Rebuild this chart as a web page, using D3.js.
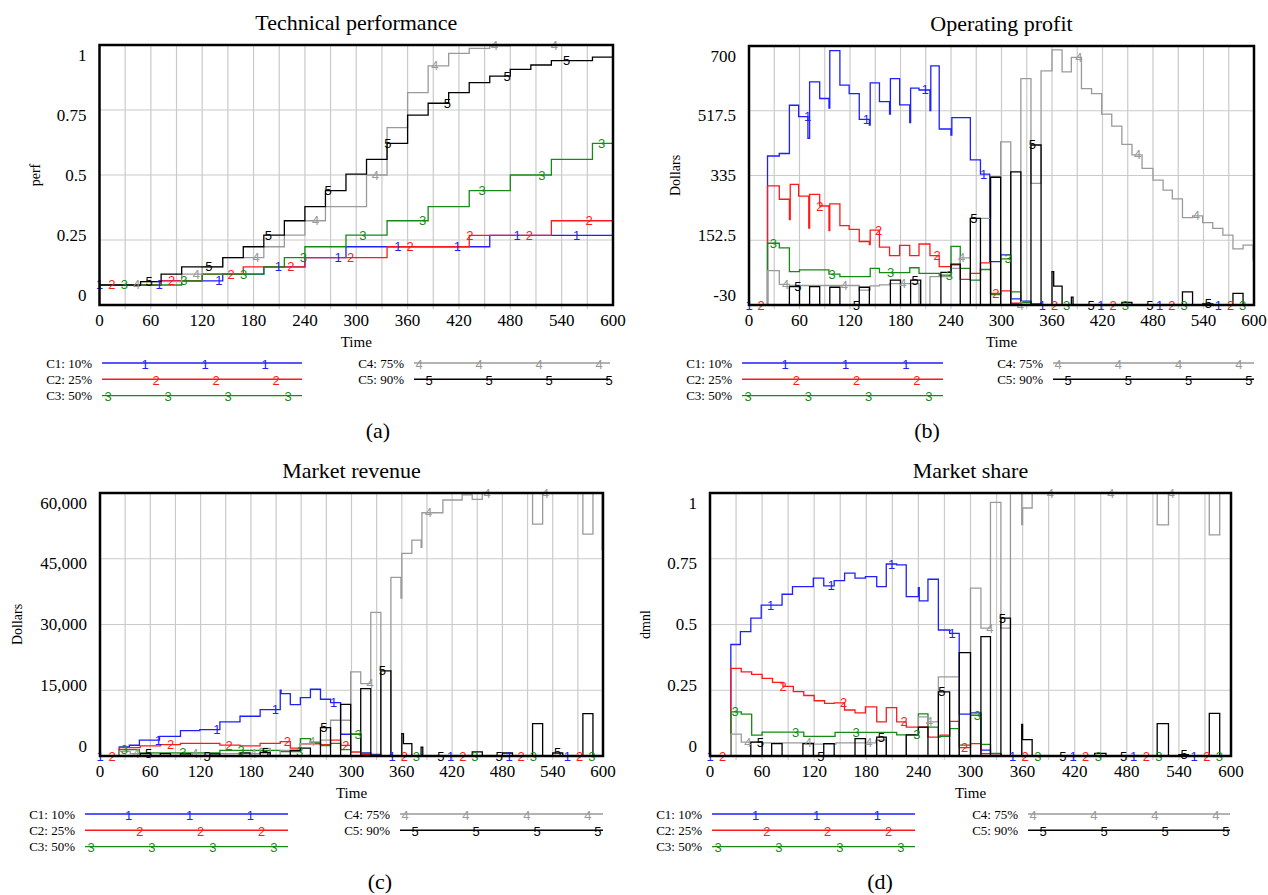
<!DOCTYPE html>
<html>
<head>
<meta charset="utf-8">
<script src="https://cdn.jsdelivr.net/npm/d3@7"></script>
<style>
body { margin: 0; background: #fff; }
text { font-family: "Liberation Serif", "Times New Roman", serif; }
</style>
</head>
<body>
<div id="viz"></div>
<script>
// Five scenarios, one line per scenario in each panel.
// Each series is a list of [time, value] steps: value holds until the next time.

var seriesNames = ["C1: 10%", "C2: 25%", "C3: 50%", "C4: 75%", "C5: 90%"];
var seriesMarks = ["1", "2", "3", "4", "5"];
var seriesColors = ["#1f1fff", "#ff1a1a", "#158a15", "#9a9a9a", "#000000"];

var timeTicks = [0, 60, 120, 180, 240, 300, 360, 420, 480, 540, 600];

// (a) Technical performance
var perfTicks = [0, 0.25, 0.5, 0.75, 1];
var perfTickLabels = ["0", "0.25", "0.5", "0.75", "1"];
var perfC1 = [[0,0.077],[72,0.093],[144,0.119],[192,0.147],[240,0.182],[288,0.224],[456,0.268]];
var perfC2 = [[0,0.077],[72,0.093],[120,0.119],[168,0.147],[240,0.182],[336,0.224],[432,0.268],[528,0.324]];
var perfC3 = [[0,0.077],[96,0.093],[120,0.119],[192,0.147],[216,0.182],[240,0.224],[288,0.269],[336,0.324],
              [384,0.378],[432,0.44],[480,0.5],[528,0.56],[576,0.622]];
var perfC4 = [[0,0.077],[48,0.09],[96,0.119],[120,0.147],[144,0.182],[192,0.224],[216,0.269],[240,0.324],
              [264,0.378],[312,0.5],[336,0.682],[360,0.817],[384,0.92],[408,0.968],[432,0.987],[456,0.997],[480,1.0]];
var perfC5 = [[0,0.077],[48,0.09],[72,0.119],[96,0.147],[144,0.182],[168,0.224],[192,0.269],[216,0.324],
              [240,0.378],[264,0.44],[288,0.503],[312,0.56],[336,0.622],[360,0.73],[384,0.776],[408,0.817],
              [432,0.855],[456,0.88],[480,0.906],[504,0.923],[528,0.94],[576,0.953]];

// (b) Operating profit
var profTicks = [-30, 152.5, 335, 517.5, 700];
var profTickLabels = ["-30", "152.5", "335", "517.5", "700"];
var profC1 = [[0,-30],[22,390],[36,397],[48,533],[59,501],[70,440],[72,599],[84,552],[95,525],[96,687],[108,590],
              [119,566],[131,493],[143,477],[144,596],[155,543],[167,508],[168,608],[179,534],[191,484],[192,581],
              [202,576],[215,518],[216,644],[226,466],[240,449],[241,498],[263,379],[275,339],[286,92],[299,111],
              [311,-13],[323,-19],[335,-27],[347,-30]];
var profC2 = [[0,-30],[22,306],[36,268],[48,211],[49,310],[59,277],[71,187],[72,282],[84,249],[95,180],[96,255],
              [108,194],[119,183],[131,149],[143,140],[144,181],[155,133],[167,109],[179,138],[191,109],[202,142],
              [215,109],[226,78],[240,83],[251,42],[263,59],[275,89],[287,3],[299,10],[311,-25],[323,-30]];
var profC3 = [[0,-30],[22,144],[36,131],[48,64],[60,69],[95,57],[108,50],[144,73],[155,61],[191,75],[202,59],
              [226,54],[240,135],[251,73],[263,40],[275,70],[287,-1],[299,100],[311,7],[323,-23],[335,-30]];
var profC4 = [[0,-30],[22,67],[36,28],[48,25],[131,12],[144,24],[155,27],[167,30],[202,-30],[215,50],[240,73],
              [251,103],[263,214],[287,331],[299,430],[311,-30],[323,608],[335,313],[347,630],[360,689],[372,627],
              [383,668],[395,580],[407,566],[419,508],[431,474],[443,423],[455,393],[467,355],[480,322],[492,294],
              [503,269],[515,216],[527,221],[539,202],[551,186],[563,167],[575,128],[587,139],[599,97]];
var profC5 = [[0,-30],[48,22],[60,-30],[72,22],[84,-30],[96,20],[108,-30],[131,20],[143,-30],[168,40],[180,-30],
              [192,40],[204,-30],[228,62],[240,85],[251,-30],[263,214],[275,-30],[287,330],[299,-30],[311,345],
              [323,-30],[335,421],[347,-30],[360,64],[362,23],[372,-30],[383,-8],[385,-30],[443,-23],[455,-30],
              [515,7],[527,-30],[539,-27],[551,-30],[575,3],[587,-30]];

// (c) Market revenue
var revTicks = [0, 15000, 30000, 45000, 60000];
var revTickLabels = ["0", "15,000", "30,000", "45,000", "60,000"];
var revC1 = [[0,0],[23,2050],[35,2450],[47,3600],[71,4500],[96,5800],[119,6000],[143,7770],[167,9070],
             [191,10600],[215,15000],[216,14250],[227,11740],[239,13340],[251,15230],[263,12950],[275,12190],
             [287,4960],[311,690],[323,390],[335,0]];
var revC2 = [[0,0],[23,1900],[48,2300],[72,2600],[96,2900],[143,2500],[167,2300],[191,2900],[215,3300],
             [227,1800],[239,2800],[263,2600],[275,3600],[287,2440],[299,910],[311,390],[323,160],[335,0]];
var revC3 = [[0,0],[23,1460],[47,700],[143,1300],[215,1000],[239,3970],[251,3060],[263,2400],[275,2900],
             [287,1450],[299,4960],[311,600],[323,150],[335,0]];
var revC4 = [[0,0],[23,1070],[36,550],[191,1760],[203,0],[215,1300],[239,2800],[251,3200],[263,3600],[275,8160],
             [299,19190],[311,16530],[323,32750],[335,0],[347,40740],[359,36000],[360,46220],[372,49270],
             [383,47600],[384,55500],[409,58400],[432,59550],[444,58560],[456,60000],[516,52900],[528,60000],
             [576,50600],[588,60000],[599,47000]];
var revC5 = [[0,0],[48,550],[60,0],[72,550],[84,0],[96,500],[108,0],[131,500],[143,0],[167,700],[179,0],
             [191,800],[203,0],[227,1300],[239,1800],[251,0],[263,6480],[275,0],[287,11800],[299,0],[311,15390],
             [323,0],[335,19400],[347,0],[360,5100],[362,2830],[372,0],[383,2000],[385,0],[444,920],[456,0],
             [480,690],[492,0],[516,7400],[528,0],[540,690],[552,0],[576,9680],[588,0]];

// (d) Market share
var shareTicks = [0, 0.25, 0.5, 0.75, 1];
var shareTickLabels = ["0", "0.25", "0.5", "0.75", "1"];
var shareC1 = [[0,0],[24,0.424],[35,0.473],[47,0.524],[59,0.574],[83,0.615],[95,0.644],[119,0.676],[131,0.647],
               [143,0.667],[155,0.695],[167,0.676],[179,0.682],[192,0.644],[203,0.73],[215,0.727],[226,0.606],
               [240,0.64],[241,0.59],[251,0.672],[263,0.479],[276,0.466],[287,0.159],[300,0.164],[312,0.022],
               [323,0.009],[335,0]];
var shareC2 = [[0,0],[24,0.333],[36,0.32],[48,0.31],[60,0.295],[72,0.28],[84,0.265],[96,0.245],[108,0.23],
               [120,0.21],[132,0.2],[143,0.202],[155,0.175],[167,0.164],[179,0.187],[192,0.13],[203,0.184],
               [215,0.13],[226,0.11],[251,0.072],[265,0.079],[276,0.132],[287,0.032],[300,0.047],[312,0.009],
               [335,0]];
var shareC3 = [[0,0],[24,0.168],[36,0.159],[48,0.079],[60,0.091],[108,0.075],[144,0.09],[215,0.08],[240,0.16],
               [251,0.11],[263,0.075],[276,0.104],[287,0.041],[300,0.155],[312,0.044],[323,0.01],[335,0]];
var shareC4 = [[0,0],[24,0.083],[36,0.053],[60,0.05],[120,0.045],[145,0.05],[191,0.06],[203,0],[226,0.08],
               [240,0.149],[251,0.13],[263,0.301],[287,0],[300,0.638],[312,0.486],[323,0.964],[335,0.486],
               [346,1.0],[359,0.88],[360,0.943],[371,1.0],[515,0.879],[528,1.0],[575,0.841],[587,1.0]];
var shareC5 = [[0,0],[47,0.053],[60,0],[71,0.047],[83,0],[107,0.047],[119,0],[131,0.047],[143,0],[167,0.066],
               [179,0],[192,0.072],[203,0],[226,0.08],[240,0.11],[251,0],[263,0.244],[276,0],[287,0.393],
               [300,0],[312,0.454],[323,0],[335,0.524],[346,0],[359,0.12],[360,0.062],[371,0],[443,0.01],
               [456,0],[515,0.123],[528,0],[540,0.005],[551,0],[575,0.162],[587,0]];

var tEnd = 600;
var markFirst = 14.5;  // offset between the numbered marks of successive series
var markStep = 69.7;   // spacing of numbered marks along a line

var svg = d3.select("#viz").append("svg")
    .attr("width", 1268)
    .attr("height", 895);

function valueAt(series, t) {
    var i = d3.bisector(function(d) { return d[0]; }).right(series, t) - 1;
    return series[Math.max(0, i)][1];
}

function draw_panel(p, id) {
    var g = svg.append("g");
    var x = d3.scaleLinear().domain([0, tEnd]).range([p.left, p.right]);
    var y = d3.scaleLinear().domain([p.ticks[0], p.ticks[p.ticks.length - 1]]).range([p.bottom, p.top]);
    // Vensim spreads the value labels evenly, a bit inside the frame
    var yLab = d3.scaleLinear().domain([0, p.ticks.length - 1]).range([p.bottom - 10, p.top + 10]);

    g.append("defs").append("clipPath").attr("id", "clip" + id)
        .append("rect")
        .attr("x", p.left).attr("y", p.top - 2)
        .attr("width", p.right - p.left).attr("height", p.bottom - p.top + 4);

    // grid
    var vgrid = d3.range(30, tEnd, 30);
    g.selectAll(".vg").data(vgrid).enter().append("line")
        .attr("x1", function(d) { return x(d); }).attr("x2", function(d) { return x(d); })
        .attr("y1", p.top).attr("y2", p.bottom + 4)
        .attr("stroke", "#cacaca").attr("stroke-width", 1.2);
    g.selectAll(".hg").data(p.ticks.slice(1, -1)).enter().append("line")
        .attr("x1", p.left).attr("x2", p.right)
        .attr("y1", function(d) { return y(d); }).attr("y2", function(d) { return y(d); })
        .attr("stroke", "#cacaca").attr("stroke-width", 1.2);

    // series lines
    var line = d3.line()
        .x(function(d) { return x(d[0]); })
        .y(function(d) { return y(d[1]); })
        .curve(d3.curveStepAfter);
    var lines = g.append("g").attr("clip-path", "url(#clip" + id + ")");
    p.series.forEach(function(s, k) {
        var pts = s.concat([[tEnd, s[s.length - 1][1]]]);
        lines.append("path")
            .attr("d", line(pts))
            .attr("fill", "none")
            .attr("stroke", seriesColors[k])
            .attr("stroke-width", 1.3);
    });

    // numbered marks along the lines
    p.series.forEach(function(s, k) {
        for (var t = k * markFirst; t <= tEnd + 0.5; t += markStep) {
            g.append("text")
                .attr("x", x(t))
                .attr("y", y(valueAt(s, t)))
                .attr("text-anchor", "middle")
                .attr("dominant-baseline", "central")
                .style("font-family", "'Liberation Sans', Arial, sans-serif")
                .style("font-size", "13px")
                .attr("fill", seriesColors[k])
                .text(seriesMarks[k]);
        }
    });

    // frame
    g.append("rect")
        .attr("x", p.left).attr("y", p.top)
        .attr("width", p.right - p.left).attr("height", p.bottom - p.top)
        .attr("fill", "none").attr("stroke", "#000").attr("stroke-width", 2.5);

    // tick labels
    g.selectAll(".xl").data(timeTicks).enter().append("text")
        .attr("x", function(d) { return x(d); })
        .attr("y", p.bottom + 15)
        .attr("text-anchor", "middle").attr("dominant-baseline", "central")
        .style("font-size", "17px")
        .text(function(d) { return d; });
    g.selectAll(".yl").data(p.tickLabels).enter().append("text")
        .attr("x", p.left - 13)
        .attr("y", function(d, i) { return yLab(i); })
        .attr("text-anchor", "end").attr("dominant-baseline", "central")
        .style("font-size", "17px")
        .text(function(d) { return d; });

    // titles
    g.append("text")
        .attr("x", (p.left + p.right) / 2).attr("y", p.top - 23)
        .attr("text-anchor", "middle").attr("dominant-baseline", "central")
        .style("font-size", "22px")
        .text(p.title);
    g.append("text")
        .attr("transform", "translate(" + p.ylabX + "," + ((p.top + p.bottom) / 2) + ") rotate(-90)")
        .attr("text-anchor", "middle").attr("dominant-baseline", "central")
        .style("font-size", "14px")
        .text(p.ylabel);
    g.append("text")
        .attr("x", (p.left + p.right) / 2).attr("y", p.bottom + 37)
        .attr("text-anchor", "middle").attr("dominant-baseline", "central")
        .style("font-size", "15px")
        .text("Time");
    g.append("text")
        .attr("x", p.capX).attr("y", p.bottom + 125)
        .attr("text-anchor", "middle").attr("dominant-baseline", "central")
        .style("font-size", "22px")
        .text(p.caption);

    // legend: C1..C3 on the left, C4..C5 on the right
    var leftW = p.legL[1] - p.legL[0];
    var spacing = 0.3 * leftW;
    var firstMark = [0.215, 0.27, 0.03, 0.025, 0.075];
    for (var k = 0; k < 5; k++) {
        var col = k < 3 ? p.legL : p.legR;
        var ly = p.bottom + 58 + (k < 3 ? k : k - 3) * 16.3;
        g.append("text")
            .attr("x", col[0] - 10).attr("y", ly)
            .attr("text-anchor", "end").attr("dominant-baseline", "central")
            .style("font-size", "13px")
            .text(seriesNames[k]);
        g.append("line")
            .attr("x1", col[0]).attr("x2", col[1])
            .attr("y1", ly).attr("y2", ly)
            .attr("stroke", seriesColors[k]).attr("stroke-width", 1.4);
        for (var mx = col[0] + firstMark[k] * leftW; mx <= col[1] + 1; mx += spacing) {
            g.append("text")
                .attr("x", mx).attr("y", ly + 1)
                .attr("text-anchor", "middle").attr("dominant-baseline", "central")
                .style("font-family", "'Liberation Sans', Arial, sans-serif")
                .style("font-size", "13px")
                .attr("fill", seriesColors[k])
                .text(seriesMarks[k]);
        }
    }
}

function main() {
    var panels = [
        { title: "Technical performance", ylabel: "perf", caption: "(a)",
          left: 99.5, right: 613, top: 45, bottom: 305, ylabX: 35, capX: 378,
          legL: [102, 302], legR: [414, 610],
          ticks: perfTicks, tickLabels: perfTickLabels,
          series: [perfC1, perfC2, perfC3, perfC4, perfC5] },
        { title: "Operating profit", ylabel: "Dollars", caption: "(b)",
          left: 749, right: 1254, top: 46, bottom: 305, ylabX: 675, capX: 927,
          legL: [742, 943], legR: [1053, 1254],
          ticks: profTicks, tickLabels: profTickLabels,
          series: [profC1, profC2, profC3, profC4, profC5] },
        { title: "Market revenue", ylabel: "Dollars", caption: "(c)",
          left: 100, right: 603, top: 493, bottom: 756, ylabX: 17, capX: 380,
          legL: [85, 288], legR: [400, 603],
          ticks: revTicks, tickLabels: revTickLabels,
          series: [revC1, revC2, revC3, revC4, revC5] },
        { title: "Market share", ylabel: "dmnl", caption: "(d)",
          left: 710, right: 1231, top: 493, bottom: 756, ylabX: 645, capX: 880,
          legL: [712, 915], legR: [1028, 1230],
          ticks: shareTicks, tickLabels: shareTickLabels,
          series: [shareC1, shareC2, shareC3, shareC4, shareC5] }
    ];
    panels.forEach(function(p, i) { draw_panel(p, i); });
}

main();
</script>
</body>
</html>
